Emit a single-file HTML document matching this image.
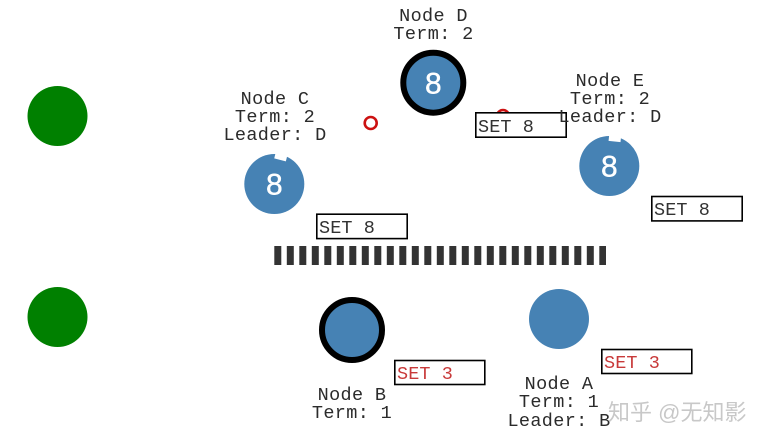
<!DOCTYPE html>
<html>
<head>
<meta charset="utf-8">
<style>
html,body{margin:0;padding:0;background:#fff;width:767px;height:444px;overflow:hidden}
svg{display:block}
.t{font-family:"Liberation Mono",monospace;font-size:18.5px;letter-spacing:.35px;fill:#2b2b2b;text-anchor:middle}
.s{font-family:"Liberation Mono",monospace;font-size:18.5px;letter-spacing:.1px;fill:#333}
.r{fill:#c83a3a}
.n{font-family:"Liberation Sans",sans-serif;font-size:30px;fill:#fff;stroke:#fff;stroke-width:.4;text-anchor:middle}
.b{fill:#fff;stroke:#000;stroke-width:1.6}
</style>
</head>
<body>
<svg width="767" height="444" viewBox="0 0 767 444" xmlns="http://www.w3.org/2000/svg">
<circle cx="57.5" cy="116" r="30" fill="#008000"/>
<circle cx="57.5" cy="317" r="30" fill="#008000"/>
<line x1="274.3" y1="255.5" x2="606" y2="255.5" stroke="#333" stroke-width="19" stroke-dasharray="7 5.5"/>
<circle cx="433.3" cy="82.7" r="30" fill="#4682b4" stroke="#000" stroke-width="6"/>
<circle cx="274.3" cy="184" r="30" fill="#4682b4"/>
<rect x="275" y="152" width="12" height="8" fill="#fff" transform="rotate(14 281 156)"/>
<circle cx="609.3" cy="166" r="30" fill="#4682b4"/>
<rect x="609" y="133" width="12" height="8.5" fill="#fff" transform="rotate(6 615 137)"/>
<circle cx="352" cy="330" r="30" fill="#4682b4" stroke="#000" stroke-width="6"/>
<circle cx="559" cy="319" r="30" fill="#4682b4"/>
<circle cx="370.7" cy="123" r="6" fill="#fff" stroke="#cc1111" stroke-width="2.6"/>
<circle cx="503" cy="116" r="6" fill="#fff" stroke="#cc1111" stroke-width="2.6"/>
<text class="n" x="433.3" y="93.5">8</text>
<text class="n" x="274.3" y="194.5">8</text>
<text class="n" x="609.3" y="176.5">8</text>
<rect class="b" x="475.8" y="112.8" width="90.4" height="24.4"/>
<rect class="b" x="316.8" y="214.2" width="90.4" height="24.4"/>
<rect class="b" x="651.8" y="196.5" width="90.4" height="24.4"/>
<rect class="b" x="394.8" y="360.5" width="90" height="24" stroke-width="1.2"/>
<rect class="b" x="601.8" y="349.5" width="90" height="24" stroke-width="1.2"/>
<text class="s" x="478" y="132">SET 8</text>
<text class="s" x="319" y="233">SET 8</text>
<text class="s" x="654" y="215">SET 8</text>
<text class="s r" x="397" y="379">SET 3</text>
<text class="s r" x="604" y="368">SET 3</text>
<text class="t" x="433.5" y="21">Node D</text>
<text class="t" x="433.5" y="39">Term: 2</text>
<text class="t" x="275" y="104">Node C</text>
<text class="t" x="275" y="122">Term: 2</text>
<text class="t" x="275" y="140">Leader: D</text>
<text class="t" x="610" y="86">Node E</text>
<text class="t" x="610" y="104">Term: 2</text>
<text class="t" x="610" y="122">Leader: D</text>
<text class="t" x="352" y="400">Node B</text>
<text class="t" x="352" y="418">Term: 1</text>
<text class="t" x="559" y="389">Node A</text>
<text class="t" x="559" y="407">Term: 1</text>
<text class="t" x="559" y="426">Leader: B</text>
<text x="608" y="420" font-family="'Liberation Sans','Noto Sans CJK SC',sans-serif" font-size="22" fill="#c8c8c8">知乎 @无知影</text>
</svg>
</body>
</html>
